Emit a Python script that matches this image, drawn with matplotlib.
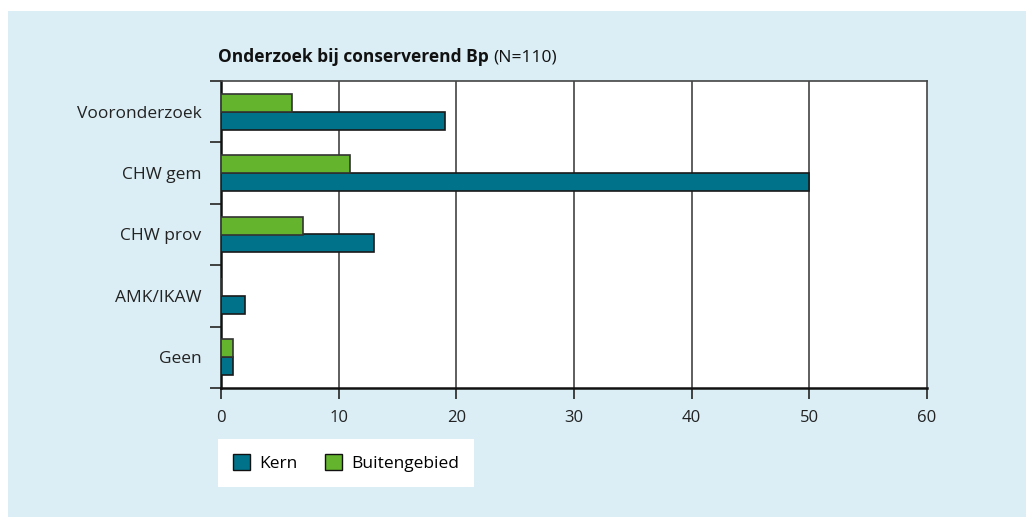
import matplotlib.pyplot as plt
import numpy as np
from matplotlib.patches import Rectangle, Patch

categories = ['Vooronderzoek', 'CHW gem', 'CHW prov', 'AMK/IKAW', 'Geen']
kern = [19, 50, 13, 2, 1]
buiten = [6, 11, 7, 0, 1]
xticks = [0, 10, 20, 30, 40, 50, 60]

blue = '#00738a'
green = '#64b42d'
bg = '#dbeef5'

plt.rcParams['font.family'] = ['Open Sans', 'DejaVu Sans']

fig = plt.figure(figsize=(10.26, 5.17), dpi=100)
fig.patch.set_facecolor('white')
# light blue panel behind everything
fig.patches.append(Rectangle((8 / 1026, 0), 1, 1 - 11 / 517, transform=fig.transFigure,
                             facecolor=bg, edgecolor='none', zorder=-10))

ax = fig.add_axes([221 / 1026, 1 - 388 / 517, 706 / 1026, 307 / 517])
ax.set_facecolor('white')

y = np.arange(len(categories))[::-1] + 0.5
h = 0.293
ax.barh(y - h / 2, kern, height=h, color=blue, edgecolor='#1a1a1a', linewidth=1.2, zorder=3)
ax.barh(y + h / 2, buiten, height=h, color=green, edgecolor='#333333', linewidth=1.2, zorder=3)

ax.set_xlim(0, 60)
ax.set_ylim(0, len(categories))
ax.set_xticks(xticks)
ax.set_xticklabels([str(v) for v in xticks], fontsize=12, color='#222222')
ax.set_yticks(y)
ax.set_yticklabels(categories, fontsize=12.5, color='#222222')
ax.set_yticks(np.arange(len(categories) + 1), minor=True)
ax.tick_params(axis='y', which='major', length=0, pad=14)
ax.tick_params(axis='y', which='minor', length=8, width=1.3, color='#333333')
ax.tick_params(axis='x', length=8, width=1.3, color='#333333', pad=8)

for v in xticks[1:-1]:
    ax.axvline(v, color='#333333', linewidth=1.1, zorder=1)

for s in ['left', 'bottom']:
    ax.spines[s].set_color('#111111')
    ax.spines[s].set_linewidth(1.8)
for s in ['top', 'right']:
    ax.spines[s].set_color('#444444')
    ax.spines[s].set_linewidth(1.2)

t = fig.text(218 / 1026, 1 - 57 / 517, 'Onderzoek bij conserverend Bp ', fontsize=12.5,
             fontweight='bold', va='center', ha='left', color='#111111')
fig.canvas.draw()
bb = t.get_window_extent()
fig.text(bb.x1 / 1026, 1 - 57 / 517, '(N=110)', fontsize=12.5, va='center', ha='left',
         color='#111111')

handles = [Patch(facecolor=blue, edgecolor='#111111', label='Kern'),
           Patch(facecolor=green, edgecolor='#111111', label='Buitengebied')]
leg = fig.legend(handles=handles, loc='center left', ncol=2,
                 bbox_to_anchor=(218 / 1026, 1 - 463 / 517), frameon=True, fancybox=False,
                 framealpha=1, fontsize=12.5, handlelength=1.0, handleheight=1.0,
                 handletextpad=0.5, columnspacing=1.6, borderpad=0.85, borderaxespad=0)
leg.get_frame().set_facecolor('white')
leg.get_frame().set_edgecolor('none')

fig.savefig('out.png', dpi=100, facecolor=fig.get_facecolor())
